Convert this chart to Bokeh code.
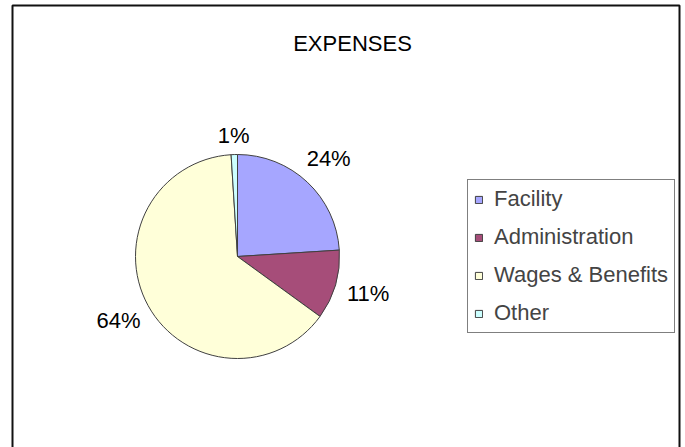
import numpy as np
from bokeh.plotting import figure
from bokeh.models import Range1d, Legend, LegendItem, Label, BoxAnnotation, ColumnDataSource
from bokeh.core.properties import value
from bokeh.embed import file_html
from bokeh.resources import INLINE

# ---- data ----
title_text = "EXPENSES"
categories = ["Facility", "Administration", "Wages & Benefits", "Other"]
shares = [24, 11, 64, 1]
pct_labels = ["24%", "11%", "64%", "1%"]
colors = ["#A6A6FF", "#A64D79", "#FFFFD9", "#CCFFFF"]

# ---- layout ----
W, H = 685, 447
FONT = "Liberation Sans"
FS = 22
cx, cy = 237, H - 256
R = 102

p = figure(width=W, height=H, output_backend="svg", toolbar_location=None,
           x_range=Range1d(0, W), y_range=Range1d(0, H), min_border=0)
p.axis.visible = False
p.grid.visible = False
p.outline_line_color = None
p.background_fill_color = "white"
p.border_fill_color = "white"

# outer chart frame
p.add_layout(BoxAnnotation(left=12, right=679, top=H - 5, bottom=-20,
                           fill_alpha=0, line_color="#111111", line_alpha=1,
                           line_width=2))

vals = np.array(shares, dtype=float)
frac = vals / vals.sum()
cum = np.concatenate([[0.0], np.cumsum(frac)])
start = np.pi / 2 - 2 * np.pi * cum[:-1]
end = np.pi / 2 - 2 * np.pi * cum[1:]

src = ColumnDataSource(dict(start=start, end=end, color=colors, cat=categories))
wr = p.wedge(x=cx, y=cy, radius=R, start_angle="start", end_angle="end",
             direction="clock", fill_color="color", line_color="#404040",
             line_width=1, source=src)

# percentage labels outside the slices
mid = (cum[:-1] + cum[1:]) / 2
theta = 2 * np.pi * mid
lx, ly = [], []
for t, lab in zip(theta, pct_labels):
    w = FS * (0.556 * (len(lab) - 1) + 0.889)
    h = 14
    proj = w / 2 * abs(np.sin(t)) + h / 2 * abs(np.cos(t))
    r = R + 11 + proj
    lx.append(cx + r * np.sin(t))
    ly.append(cy + r * np.cos(t) + 1)
p.text(x=lx, y=ly, text=pct_labels, text_font=value(FONT),
       text_font_size=f"{FS}px", text_align="center", text_baseline="middle",
       text_color="black")

# title
p.add_layout(Label(x=352, y=H - 43, text=title_text, text_font=FONT,
                   text_font_size=f"{FS}px", text_align="center",
                   text_baseline="middle", text_color="black"))

# legend
items = [LegendItem(label=c, renderers=[wr], index=i) for i, c in enumerate(categories)]
leg = Legend(items=items, location=(467, H - 333), margin=0, padding=6,
             spacing=12, glyph_width=9, glyph_height=9, label_standoff=11,
             label_text_font=FONT, label_text_font_size=f"{FS}px",
             label_height=24, border_line_color="black", border_line_width=1,
             background_fill_color="white", background_fill_alpha=1)
p.add_layout(leg)

open("out.html", "w").write(file_html(p, INLINE))
